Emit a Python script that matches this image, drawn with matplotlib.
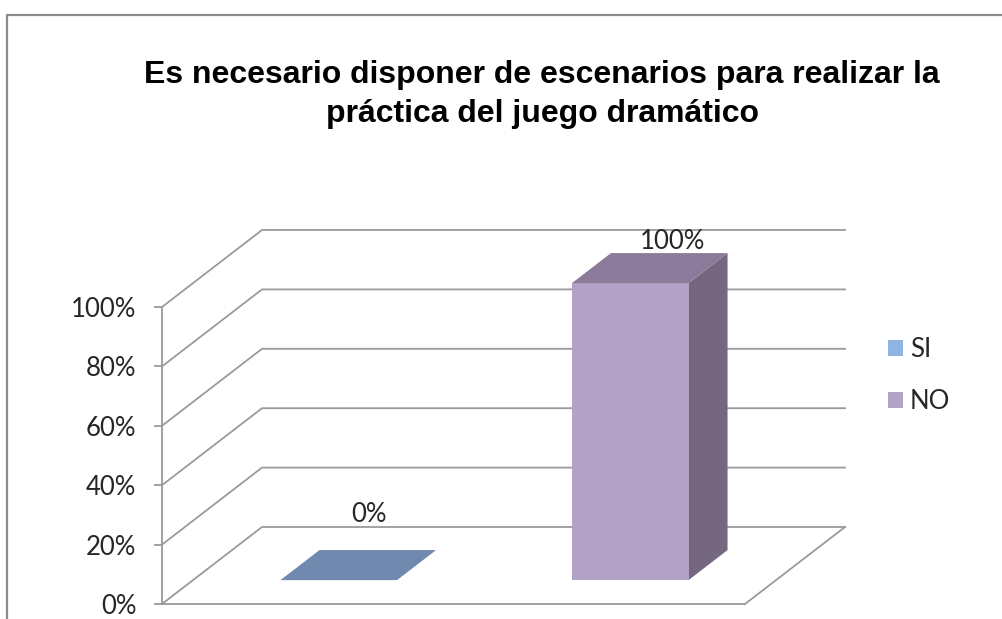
import matplotlib
import matplotlib.pyplot as plt
from matplotlib.lines import Line2D
from matplotlib.patches import Patch, Polygon

matplotlib.use('Agg')

TITLE = ("Es necesario disponer de escenarios para realizar la\n"
         "práctica del juego dramático")
categories = ["SI", "NO"]
values = [0, 100]
y_ticks = [0, 20, 40, 60, 80, 100]

GREY = "#9a9a9a"
FRONT = ["#8db4e2", "#b3a2c7"]
TOP = ["#7089ae", "#8b7a99"]
SIDE = ["#5f7594", "#766781"]

W, H = 1003, 619
# how far the back wall is shifted from the front plane, in data units
DEPTH_X = 100 / 291.5
DEPTH_Y = 77 / 297 * 100
BAR_WIDTH = 0.4
BAR_NEAR = 0.31
BAR_FAR = 0.70


def project(x, y, depth):
    return x + depth * DEPTH_X, y + depth * DEPTH_Y


def draw_bar(ax, center, value, i):
    left = center - BAR_WIDTH / 2
    right = center + BAR_WIDTH / 2
    front = [project(left, 0, BAR_NEAR), project(right, 0, BAR_NEAR),
             project(right, value, BAR_NEAR), project(left, value, BAR_NEAR)]
    top = [project(left, value, BAR_NEAR), project(right, value, BAR_NEAR),
           project(right, value, BAR_FAR), project(left, value, BAR_FAR)]
    side = [project(right, 0, BAR_NEAR), project(right, 0, BAR_FAR),
            project(right, value, BAR_FAR), project(right, value, BAR_NEAR)]
    for pts, color in ((side, SIDE[i]), (front, FRONT[i]), (top, TOP[i])):
        ax.add_patch(Polygon(pts, closed=True, facecolor=color, linewidth=0,
                             clip_on=False, zorder=3))


def main():
    fig = plt.figure(figsize=(W / 100, H / 100), dpi=100)
    ax = fig.add_axes([162 / W, (H - 604) / H, 583 / W, 297 / H])
    ax.set_xlim(0, len(categories))
    ax.set_ylim(0, 100)

    # chart border, only top and left are visible in the crop
    fig.add_artist(Line2D([7.5 / W, 7.5 / W, 1], [0, 1 - 14.5 / H, 1 - 14.5 / H],
                          color="#8c8c8c", lw=1.6))

    for s in ("top", "right"):
        ax.spines[s].set_visible(False)
    for s in ("left", "bottom"):
        ax.spines[s].set_color(GREY)
        ax.spines[s].set_linewidth(1.3)
    ax.set_xticks([])
    ax.set_yticks(y_ticks)
    ax.set_yticklabels([f"{t}%" for t in y_ticks], fontfamily="Lato",
                       fontsize=18.5, color="#262626")
    ax.tick_params(axis="y", color=GREY, width=1.3, length=5.5, pad=13)

    # walls and floor
    for t in y_ticks:
        xs, ys = zip(project(0, t, 0), project(0, t, 1),
                     project(len(categories), t, 1))
        ax.plot(xs, ys, color=GREY, lw=1.3, clip_on=False, zorder=1)
    xs, ys = zip(project(len(categories), 0, 0), project(len(categories), 0, 1))
    ax.plot(xs, ys, color=GREY, lw=1.3, clip_on=False, zorder=1)

    for i, v in enumerate(values):
        draw_bar(ax, i + 0.5, v, i)

    # data labels, offsets by hand like the original layout
    offsets = [(61, 90), (73, 66)]
    for i, v in enumerate(values):
        ax.annotate(f"{v}%", xy=(i + 0.5, v), xytext=offsets[i],
                    textcoords="offset pixels", ha="center", va="center",
                    fontfamily="Lato", fontsize=18.5, color="#262626",
                    annotation_clip=False, zorder=4)

    handles = [Patch(facecolor=FRONT[i], label=c) for i, c in enumerate(categories)]
    fig.legend(handles=handles, loc="center left",
               bbox_to_anchor=(865 / W, 1 - 375.5 / H), frameon=False,
               prop={"family": "Lato", "size": 18.5}, labelcolor="#262626",
               handlelength=0.58, handleheight=0.58, handletextpad=0.27,
               labelspacing=1.08)

    fig.text(542 / W, 1 - 94.5 / H, TITLE, ha="center", va="center",
             fontfamily="Liberation Sans", fontweight="bold", fontsize=23,
             color="black", linespacing=1.36)

    fig.savefig("out.png", dpi=100, facecolor="white")


if __name__ == "__main__":
    main()
